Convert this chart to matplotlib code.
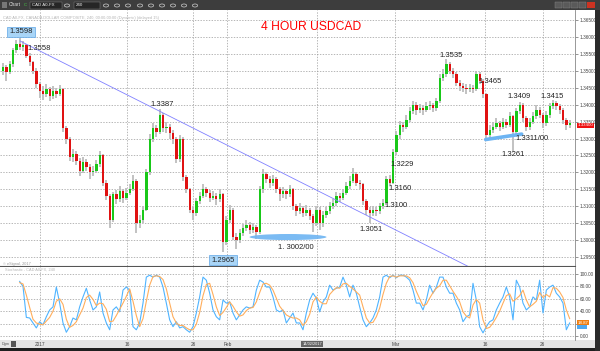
import numpy as np
import matplotlib
matplotlib.use("Agg")
import matplotlib.pyplot as plt
from matplotlib.patches import Ellipse, Rectangle, Circle

plt.rcParams["font.family"] = ["Liberation Sans", "DejaVu Sans"]

# ---- 4 hour USDCAD candles (bar index 0..170) ----
first_open = 1.3500
closes = [
    1.3510, 1.3495, 1.3520, 1.3560, 1.3578, 1.3570, 1.3575, 1.3545, 1.3525, 1.3500,
    1.3460, 1.3440, 1.3430, 1.3445, 1.3425, 1.3440, 1.3430, 1.3445, 1.3330, 1.3300,
    1.3245, 1.3255, 1.3235, 1.3205, 1.3230, 1.3215, 1.3200, 1.3205, 1.3225, 1.3250,
    1.3170, 1.3130, 1.3060, 1.3135, 1.3120, 1.3145, 1.3125, 1.3140, 1.3150, 1.3175,
    1.3050, 1.3060, 1.3090, 1.3200, 1.3300, 1.3330, 1.3320, 1.3370, 1.3330, 1.3335,
    1.3315, 1.3300, 1.3240, 1.3300, 1.3185, 1.3150, 1.3090, 1.3080, 1.3115, 1.3130,
    1.3150, 1.3140, 1.3125, 1.3130, 1.3120, 1.3135, 1.2995, 1.3060, 1.3090, 1.3010,
    1.3000, 1.3020, 1.3035, 1.3045, 1.3030, 1.3040, 1.3025, 1.3150, 1.3195, 1.3180,
    1.3170, 1.3180, 1.3150, 1.3135, 1.3145, 1.3135, 1.3150, 1.3100, 1.3085, 1.3095,
    1.3080, 1.3090, 1.3070, 1.3050, 1.3090, 1.3050, 1.3075, 1.3085, 1.3100, 1.3110,
    1.3130, 1.3125, 1.3140, 1.3160, 1.3175, 1.3195, 1.3170, 1.3165, 1.3115, 1.3090,
    1.3080, 1.3090, 1.3085, 1.3100, 1.3110, 1.3180, 1.3170, 1.3260, 1.3310, 1.3340,
    1.3335, 1.3355, 1.3380, 1.3400, 1.3385, 1.3390, 1.3385, 1.3395, 1.3400, 1.3390,
    1.3410, 1.3480, 1.3490, 1.3520, 1.3500, 1.3490, 1.3465, 1.3455, 1.3450, 1.3445,
    1.3450, 1.3445, 1.3490, 1.3470, 1.3430, 1.3310, 1.3325, 1.3335, 1.3345, 1.3335,
    1.3350, 1.3340, 1.3365, 1.3320, 1.3380, 1.3400, 1.3360, 1.3335, 1.3350, 1.3365,
    1.3385, 1.3370, 1.3345, 1.3370, 1.3395, 1.3405, 1.3395, 1.3385, 1.3355, 1.3340,
    1.3345,
]
highs = [
    1.3522, 1.3518, 1.3528, 1.3566, 1.3590, 1.3598, 1.3588, 1.3580, 1.3552, 1.3530,
    1.3508, 1.3468, 1.3455, 1.3460, 1.3452, 1.3455, 1.3450, 1.3458, 1.3450, 1.3338,
    1.3305, 1.3268, 1.3262, 1.3242, 1.3245, 1.3240, 1.3225, 1.3218, 1.3238, 1.3262,
    1.3255, 1.3178, 1.3135, 1.3142, 1.3148, 1.3160, 1.3152, 1.3155, 1.3165, 1.3192,
    1.3180, 1.3075, 1.3100, 1.3210, 1.3312, 1.3345, 1.3340, 1.3387, 1.3375, 1.3348,
    1.3342, 1.3325, 1.3305, 1.3310, 1.3305, 1.3192, 1.3155, 1.3098, 1.3125, 1.3142,
    1.3165, 1.3158, 1.3148, 1.3145, 1.3138, 1.3150, 1.3140, 1.3070, 1.3105, 1.3095,
    1.3022, 1.3032, 1.3048, 1.3058, 1.3052, 1.3050, 1.3046, 1.3160, 1.3210, 1.3200,
    1.3188, 1.3192, 1.3185, 1.3158, 1.3158, 1.3152, 1.3162, 1.3155, 1.3108, 1.3110,
    1.3102, 1.3105, 1.3095, 1.3078, 1.3100, 1.3098, 1.3085, 1.3098, 1.3112, 1.3122,
    1.3142, 1.3140, 1.3152, 1.3172, 1.3188, 1.3212, 1.3200, 1.3178, 1.3170, 1.3120,
    1.3098, 1.3102, 1.3098, 1.3110, 1.3122, 1.3190, 1.3192, 1.3270, 1.3322, 1.3352,
    1.3350, 1.3368, 1.3392, 1.3412, 1.3408, 1.3402, 1.3398, 1.3408, 1.3412, 1.3405,
    1.3420, 1.3490, 1.3505, 1.3535, 1.3525, 1.3508, 1.3495, 1.3472, 1.3465, 1.3460,
    1.3462, 1.3458, 1.3498, 1.3495, 1.3475, 1.3435, 1.3340, 1.3348, 1.3360, 1.3352,
    1.3362, 1.3358, 1.3378, 1.3370, 1.3390, 1.3409, 1.3405, 1.3365, 1.3362, 1.3378,
    1.3398, 1.3392, 1.3375, 1.3382, 1.3405, 1.3415, 1.3410, 1.3402, 1.3390, 1.3362,
    1.3355,
]
lows = [
    1.3488, 1.3470, 1.3490, 1.3512, 1.3552, 1.3560, 1.3558, 1.3538, 1.3515, 1.3490,
    1.3450, 1.3420, 1.3415, 1.3422, 1.3410, 1.3418, 1.3420, 1.3425, 1.3320, 1.3285,
    1.3235, 1.3232, 1.3222, 1.3190, 1.3198, 1.3205, 1.3180, 1.3190, 1.3198, 1.3215,
    1.3160, 1.3118, 1.3035, 1.3052, 1.3108, 1.3112, 1.3110, 1.3118, 1.3132, 1.3145,
    1.3020, 1.3035, 1.3050, 1.3085, 1.3192, 1.3290, 1.3305, 1.3312, 1.3318, 1.3315,
    1.3300, 1.3285, 1.3228, 1.3232, 1.3175, 1.3140, 1.3080, 1.3060, 1.3072, 1.3108,
    1.3125, 1.3128, 1.3112, 1.3118, 1.3105, 1.3112, 1.2965, 1.2985, 1.3050, 1.3000,
    1.2975, 1.2992, 1.3012, 1.3028, 1.3018, 1.3022, 1.3002, 1.3018, 1.3140, 1.3168,
    1.3155, 1.3160, 1.3140, 1.3115, 1.3125, 1.3122, 1.3128, 1.3090, 1.3072, 1.3078,
    1.3068, 1.3072, 1.3058, 1.3025, 1.3042, 1.3030, 1.3040, 1.3065, 1.3078, 1.3092,
    1.3102, 1.3112, 1.3118, 1.3132, 1.3152, 1.3168, 1.3160, 1.3150, 1.3105, 1.3075,
    1.3051, 1.3070, 1.3072, 1.3078, 1.3092, 1.3105, 1.3160, 1.3165, 1.3250, 1.3300,
    1.3320, 1.3328, 1.3348, 1.3372, 1.3370, 1.3375, 1.3370, 1.3378, 1.3385, 1.3378,
    1.3382, 1.3405, 1.3470, 1.3482, 1.3490, 1.3478, 1.3455, 1.3440, 1.3438, 1.3432,
    1.3438, 1.3435, 1.3440, 1.3460, 1.3420, 1.3295, 1.3300, 1.3315, 1.3328, 1.3322,
    1.3328, 1.3330, 1.3335, 1.3261, 1.3312, 1.3372, 1.3350, 1.3322, 1.3325, 1.3342,
    1.3358, 1.3360, 1.3332, 1.3338, 1.3362, 1.3388, 1.3385, 1.3372, 1.3342, 1.3325,
    1.3332,
]
opens = [first_open] + closes[:-1]

# ---- stochastic (%K blue, %D orange), starts at bar 5 ----
stoch_start = 5
stoch_k = [
    88, 80, 30, 29, 21, 13, 23, 18, 31, 42,
    47, 79, 53, 21, 6, 15, 29, 26, 47, 63,
    77, 58, 42, 47, 71, 37, 21, 10, 42, 47,
    39, 74, 79, 74, 15, 10, 21, 53, 95, 98,
    95, 98, 95, 79, 53, 26, 15, 23, 13, 15,
    10, 6, 15, 37, 63, 95, 90, 69, 42, 31,
    26, 58, 53, 55, 37, 26, 34, 42, 47, 45,
    47, 74, 90, 87, 79, 79, 63, 42, 39, 42,
    21, 29, 37, 21, 21, 10, 37, 58, 69, 61,
    39, 55, 63, 82, 74, 77, 79, 95, 82, 63,
    82, 69, 47, 26, 15, 21, 29, 42, 63, 95,
    98, 94, 98, 94, 98, 98, 95, 90, 74, 53,
    53, 42, 58, 82, 69, 79, 95, 95, 79, 69,
    69, 53, 42, 23, 31, 34, 85, 58, 15, 5,
    15, 23, 26, 42, 53, 63, 79, 63, 26, 90,
    79, 53, 42, 47, 63, 58, 90, 37, 74, 79,
    82, 69, 63, 53, 10, 21,
]
stoch_d = [
    86, 84, 66, 46, 27, 21, 19, 18, 24, 30,
    40, 56, 60, 51, 27, 14, 17, 23, 34, 45,
    62, 66, 59, 49, 53, 52, 43, 23, 24, 33,
    43, 53, 64, 76, 56, 33, 15, 28, 56, 82,
    96, 97, 96, 91, 76, 53, 31, 21, 17, 17,
    13, 10, 10, 19, 38, 65, 83, 85, 67, 47,
    33, 38, 46, 55, 48, 39, 32, 34, 41, 45,
    46, 55, 70, 84, 85, 82, 74, 61, 48, 41,
    34, 31, 29, 29, 26, 17, 23, 35, 55, 63,
    56, 52, 52, 67, 73, 78, 77, 84, 85, 80,
    76, 71, 66, 47, 29, 21, 22, 31, 45, 67,
    85, 96, 97, 95, 97, 97, 97, 94, 86, 72,
    60, 49, 51, 61, 70, 77, 81, 90, 90, 81,
    72, 64, 55, 39, 32, 29, 50, 59, 53, 26,
    12, 14, 21, 30, 40, 53, 65, 68, 56, 60,
    65, 74, 58, 47, 51, 56, 70, 62, 67, 63,
    78, 77, 71, 62, 42, 28,
]

# date axis
date_labels = ["2017", "16", "26", "Feb", "Mar", "16", "26"]
date_bars = [11.1, 37.2, 57.0, 67.3, 117.7, 144.7, 161.9]
cursor_bar = 94.3
cursor_label = "14/02/2017"

# support / resistance notes
level_labels = ["1.3598", "1.3558", "1.3387", "1.2965", "1. 3002/00", "1.3051",
                "1.3100", "1.3160", "1.3229", "1.3535", "1.3465", "1.3409",
                "1.3415", "1.3311/00", "1.3261"]
last_price = "1.33400"
last_stoch = "18.87"

# ---------------- layout ----------------
W, H = 600, 351


def fx(px):
    return px / W


def fy(py):
    return 1 - py / H


def box(x0, y0, x1, y1, **kw):
    fig.add_artist(Rectangle((fx(x0), fy(y1)), (x1 - x0) / W, (y1 - y0) / H,
                             transform=fig.transFigure, **kw))


fig = plt.figure(figsize=(6, 3.51), dpi=100)
fig.patch.set_facecolor("white")

ax = fig.add_axes([0, fy(266), fx(575), fy(10) - fy(266)])
osc = fig.add_axes([0, fy(340), fx(575), fy(267) - fy(340)], sharex=ax)

grid_kw = dict(color="#9a9a9a", linewidth=0.5, linestyle=(0, (2, 2)), zorder=1)

# price panel
idx = np.arange(len(closes))
o = np.array(opens)
c = np.array(closes)
up = c >= o
ax.vlines(idx, lows, highs, color="#bdbdbd", linewidth=1.3, zorder=2)
ax.bar(idx, np.maximum(np.abs(c - o), 0.00025), bottom=np.minimum(o, c), width=0.7,
       color=np.where(up, "#19c819", "#e01212"), linewidth=0, zorder=3)

ax.set_xlim(-0.9, 171.6)
ax.set_ylim(1.29235, 1.36795)
ax.set_yticks(np.arange(1.295, 1.3651, 0.005))
ax.yaxis.set_major_formatter(plt.FormatStrFormatter("%.5f"))
ax.yaxis.tick_right()
ax.tick_params(axis="y", labelsize=3.4, length=2, width=0.4, pad=1.5, colors="#444444")
ax.tick_params(axis="x", bottom=False, labelbottom=False)
ax.grid(axis="y", **grid_kw)
for b in date_bars + [cursor_bar]:
    ax.axvline(b, **grid_kw)
for s in ["left", "top"]:
    ax.spines[s].set_visible(False)
ax.spines["right"].set_color("#888888")
ax.spines["right"].set_linewidth(0.6)
ax.spines["bottom"].set_color("#555555")
ax.spines["bottom"].set_linewidth(0.8)

# trend line from the 1.3598 high
ax.plot([5.1, 140], [1.3588, 1.2920], color="#8080ff", linewidth=0.6, zorder=4)

# support highlights
ax.add_patch(Ellipse((85.5, 1.3009), 23.1, 0.0018, facecolor="#6db4f2",
                     edgecolor="none", alpha=0.9, zorder=4))
ax.plot([144.8, 155.6], [1.3297, 1.3313], color="#6db4f2", linewidth=2.6,
        solid_capstyle="round", zorder=4)

label_pos = [(5.4, 1.36146), (10.8, 1.35644), (47.7, 1.34019), (66.0, 1.29412),
             (87.9, 1.29767), (110.4, 1.30327), (117.9, 1.31007), (119.1, 1.31509),
             (119.7, 1.32218), (134.4, 1.35466), (146.1, 1.34669), (154.8, 1.34255),
             (164.7, 1.34255), (158.7, 1.32986), (153.0, 1.32513)]
boxed = {"1.3598", "1.2965"}
for txt, (bx, py) in zip(level_labels, label_pos):
    kw = {}
    if txt in boxed:
        kw["bbox"] = dict(boxstyle="square,pad=0.25", facecolor="#a9d5f7",
                          edgecolor="#5fa6e6", linewidth=0.5)
    ax.text(bx, py, txt, fontsize=5.5, color="#222222", ha="center", va="center",
            zorder=6, **kw)

ax.text(1.004, 1.33385, last_price, transform=ax.get_yaxis_transform(), fontsize=3.2,
        color="white", va="center", ha="left", zorder=7, clip_on=False,
        bbox=dict(boxstyle="square,pad=0.12", facecolor="#ee1111", edgecolor="none"))
ax.text(0.005, 1.29300, "\u00a9 eSignal, 2017", transform=ax.get_yaxis_transform(),
        fontsize=2.8, color="#999999", va="center")
ax.text(0.005, 1.3655, "CAD A0-FX, CANADA DOLLAR COMPOSITE, 240, 00:00-00:00 (Dynamic) (delayed 15)",
        transform=ax.get_yaxis_transform(), fontsize=2.9, color="#b5b5b5", va="center")

# stochastic panel
sx = np.arange(stoch_start, stoch_start + len(stoch_k))
osc.plot(sx, stoch_k, color="#4fb4ff", linewidth=0.8, zorder=3)
osc.plot(sx, stoch_d, color="#ffae5c", linewidth=0.8, zorder=4)
osc.set_ylim(-6.5, 111.3)
osc.set_yticks(np.arange(0, 101, 20))
# the 20.00 label sits under the current-value box
osc.set_yticklabels(["0.00", "", "40.00", "60.00", "80.00", "100.00"])
osc.yaxis.tick_right()
osc.tick_params(axis="y", labelsize=3.4, length=2, width=0.4, pad=1.5, colors="#444444")
osc.set_xticks(date_bars)
osc.set_xticklabels(date_labels)
osc.tick_params(axis="x", labelsize=3.4, length=0, pad=1.5, colors="#444444")
osc.grid(axis="y", **grid_kw)
for b in date_bars + [cursor_bar]:
    osc.axvline(b, **grid_kw)
for s in ["left", "top", "bottom"]:
    osc.spines[s].set_visible(False)
osc.spines["right"].set_color("#888888")
osc.spines["right"].set_linewidth(0.6)
osc.text(0.008, 107, "Stochastic - CAD A0-FX, 240", transform=osc.get_yaxis_transform(),
         fontsize=2.8, color="#b5b5b5", va="center")
osc.text(1.004, 15, "       ", transform=osc.get_yaxis_transform(), fontsize=3.2,
         va="center", clip_on=False,
         bbox=dict(boxstyle="square,pad=0.12", facecolor="#4fa8f0", edgecolor="none"))
osc.text(1.004, 21, last_stoch, transform=osc.get_yaxis_transform(), fontsize=3.2,
         color="white", va="center", ha="left", clip_on=False, zorder=7,
         bbox=dict(boxstyle="square,pad=0.12", facecolor="#f07f12", edgecolor="none"))

# window chrome
box(0, 340, 595, 348, facecolor="#e4e4e4", edgecolor="none", zorder=-1)
box(0, 348, 600, 351, facecolor="#1f1f1f", edgecolor="none")
box(595, 10, 600, 351, facecolor="#2b2b2b", edgecolor="none")
box(0, 0, 600, 10, facecolor="#3d3d3d", edgecolor="none")
fig.text(fx(1.5), fy(344), "Dgm", fontsize=2.8, color="#555555", va="center")
box(11, 341, 16, 347, facecolor="#555555", edgecolor="none")
fig.text(fx(312), fy(344), cursor_label, fontsize=2.8, color="white", va="center",
         ha="center", bbox=dict(boxstyle="square,pad=0.3", facecolor="#666666",
                                edgecolor="none"))

box(2, 2, 7, 8, facecolor="#777777", edgecolor="none")
fig.text(fx(9), fy(5), "Chart", fontsize=3.5, color="#dddddd", va="center")
fig.text(fx(24), fy(5), "C", fontsize=3.2, color="#44cc44", va="center")
box(30, 2, 62, 9, facecolor="#262626", edgecolor="#8a8a8a", linewidth=0.3)
fig.text(fx(32), fy(5.5), "CAD A0-FX", fontsize=3.2, color="#eeeeee", va="center")
box(74, 2, 100, 9, facecolor="#262626", edgecolor="#8a8a8a", linewidth=0.3)
fig.text(fx(76), fy(5.5), "240", fontsize=3.2, color="#eeeeee", va="center")
for px in [67, 106, 117, 128, 140, 151, 162, 173, 184, 195]:
    fig.add_artist(Circle((fx(px), fy(5.5)), 2.6 / W, transform=fig.transFigure,
                          facecolor="none", edgecolor="#cfcfcf", linewidth=0.5))
for x0 in [555, 563, 571, 579]:
    box(x0, 2, x0 + 7, 8, facecolor="#5a5a5a", edgecolor="#888888", linewidth=0.3)
box(587, 2, 595, 8, facecolor="#cc3322", edgecolor="none")

fig.text(fx(311), fy(27.5), "4 HOUR USDCAD", color="#ff0000", fontsize=8.7,
         ha="center", va="center")

fig.savefig("out.png", dpi=100)
